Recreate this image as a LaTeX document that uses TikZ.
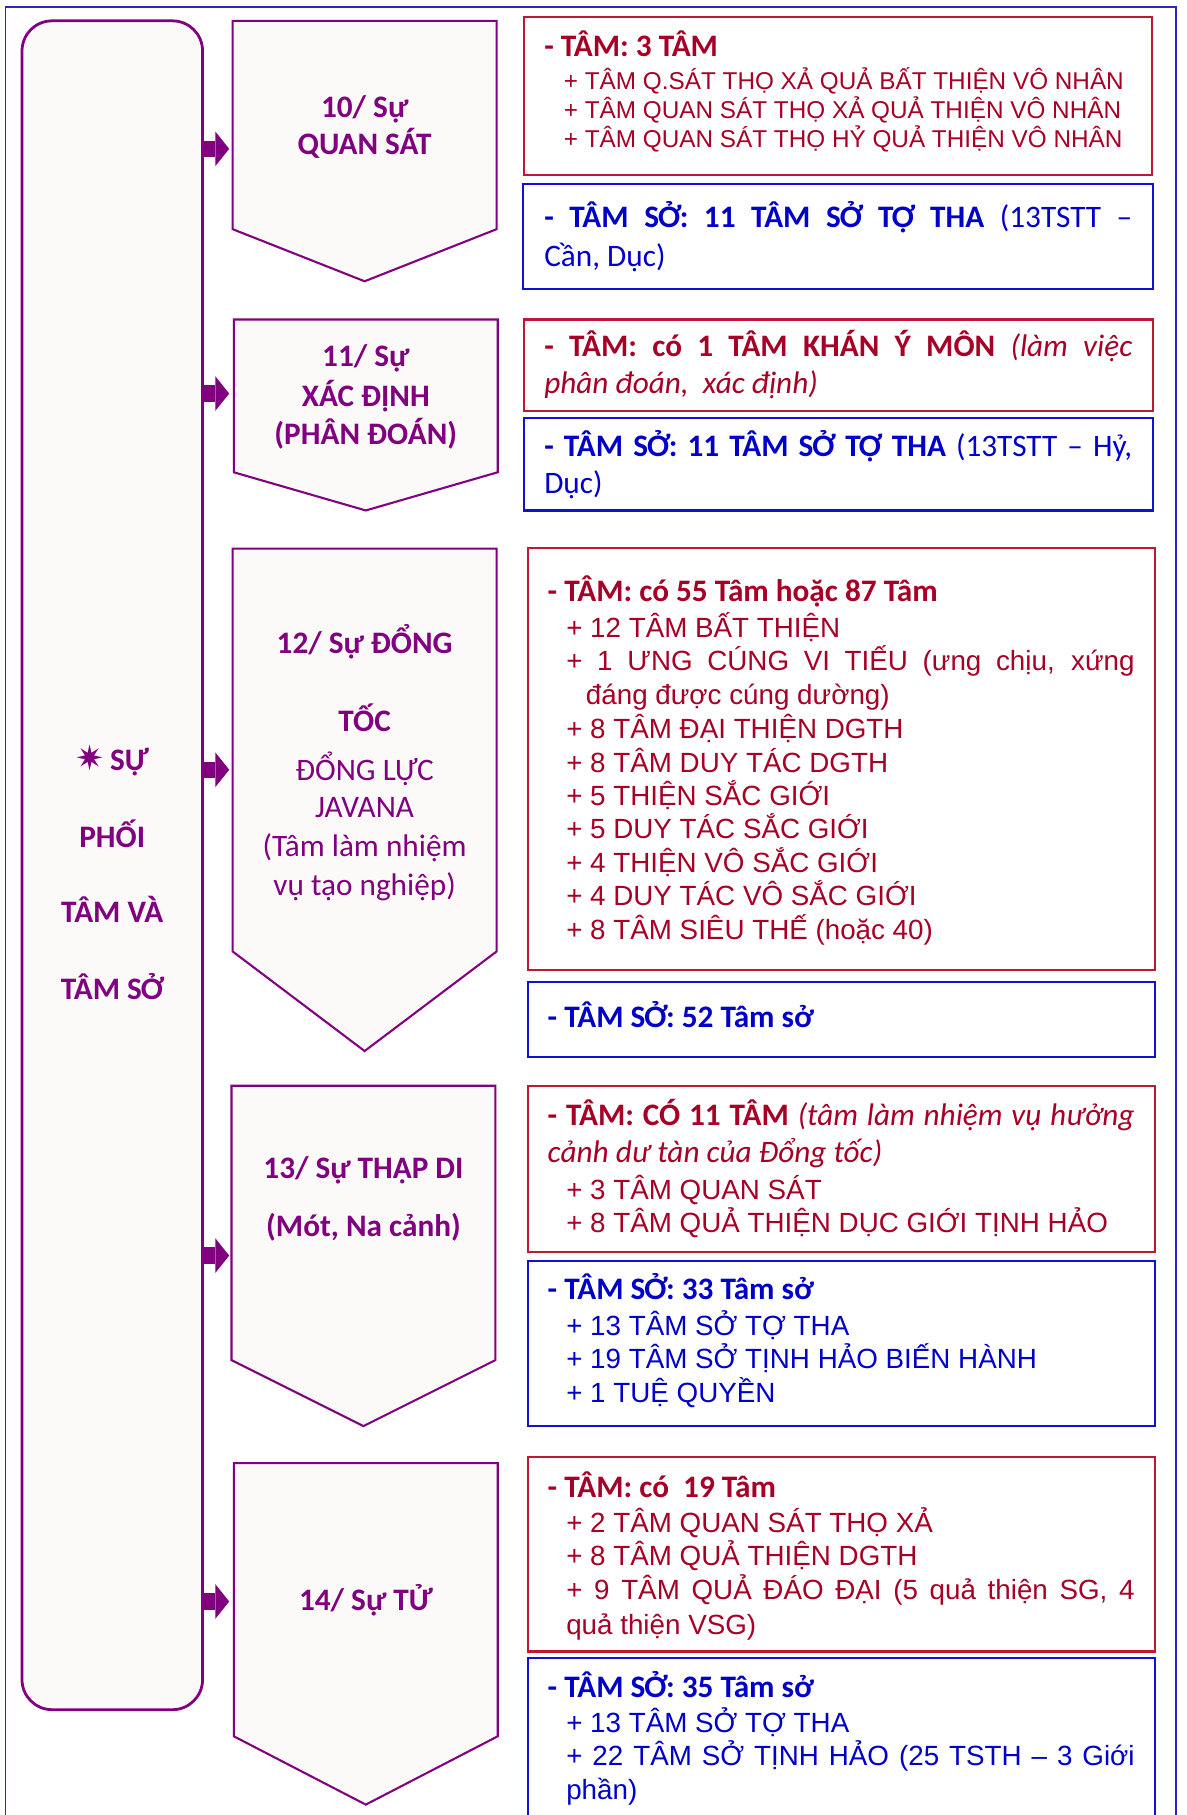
\documentclass[tikz,border=0pt]{standalone}
\usepackage{fontspec}
\setmainfont{Carlito}
\newfontfamily\arialfont{Liberation Sans}
\newfontfamily\starfont{DejaVu Sans}
\usetikzlibrary{arrows.meta}
\definecolor{tampurple}{RGB}{128,0,128}
\definecolor{tamred}{RGB}{166,0,38}
\definecolor{boxred}{RGB}{190,24,52}
\definecolor{tamblue}{RGB}{0,0,200}
\definecolor{boxblue}{RGB}{16,16,214}
\definecolor{paper}{RGB}{251,250,248}
\definecolor{framebl}{RGB}{40,40,190}
\newcommand{\bigf}{\fontsize{27}{33}\selectfont}
\newcommand{\itemf}{\arialfont\fontsize{24}{29}\selectfont}
\newcommand{\smallf}{\arialfont\fontsize{21}{25}\selectfont}

\begin{document}
\begin{tikzpicture}[x=1pt,y=-1pt,
  chev/.style={draw=tampurple,line width=1.8pt,fill=paper,line join=miter},
  redbox/.style={draw=boxred,line width=1.8pt},
  bluebox/.style={draw=boxblue,line width=1.8pt},
  ptitle/.style={text=tampurple,font=\bigf\bfseries,anchor=base,inner sep=0pt},
  pplain/.style={text=tampurple,font=\bigf,anchor=base,inner sep=0pt},
  redhead/.style={text=tamred,font=\bigf,anchor=base west,inner sep=0pt},
  reditem/.style={text=tamred,font=\itemf,anchor=base west,inner sep=0pt},
  bluehead/.style={text=tamblue,font=\bigf,anchor=base west,inner sep=0pt},
  blueitem/.style={text=tamblue,font=\itemf,anchor=base west,inner sep=0pt},
  bigarrow/.style={draw=tampurple,line width=14pt,
    -{Triangle[length=12pt,width=30pt,line width=0pt]}}]

\useasboundingbox (0,0) rectangle (1025,1568);
\fill[white] (0,0) rectangle (1025,1568);

% frame
\draw[framebl,line width=1.2pt] (5,1575) -- (5,6) -- (1016,6) -- (1016,1575);

% left box
\node[draw=tampurple,line width=2.4pt,fill=paper,rounded corners=26pt,
  minimum width=156pt,minimum height=1459pt,inner sep=0pt] (mainbox) at (97,747.5) {};
\node[ptitle] (m1) at (97,665.5) {{\starfont\fontsize{30}{30}\selectfont ✷}\,SỰ};
\node[ptitle] (m2) at (97,732) {PHỐI};
\node[ptitle] (m3) at (97,797) {TÂM VÀ};
\node[ptitle] (m4) at (97,863.4) {TÂM SỞ};

% chevrons
\draw[chev] (201,18) -- (429,18) -- (429,198) -- (315,243) -- (201,198) -- cycle;
\draw[chev] (202,276) -- (430,276) -- (430,408) -- (316,441) -- (202,408) -- cycle;
\draw[chev] (201,474) -- (429,474) -- (429,822) -- (315,908) -- (201,822) -- cycle;
\draw[chev] (200,938) -- (428,938) -- (428,1175) -- (314,1232) -- (200,1175) -- cycle;
\draw[chev] (202,1264) -- (430,1264) -- (430,1500) -- (316,1559) -- (202,1500) -- cycle;

\coordinate (in10) at (198,128.6);
\coordinate (in11) at (198,340);
\coordinate (in12) at (198,665);
\coordinate (in13) at (198,1084.7);
\coordinate (in14) at (198,1383.5);
\foreach \k in {10,11,12,13,14}
  \draw[bigarrow] (mainbox.east |- in\k) -- (in\k);

\node[ptitle] (c10a) at (315,101.4) {10/ Sự};
\node[ptitle] (c10b) at (315,133.4) {QUAN SÁT};
\node[ptitle] (c11a) at (316,317) {11/ Sự};
\node[ptitle] (c11b) at (316,351) {XÁC ĐỊNH};
\node[ptitle] (c11c) at (316,384) {(PHÂN ĐOÁN)};
\node[ptitle] (c12a) at (315,564.6) {12/ Sự ĐỔNG};
\node[ptitle] (c12b) at (315,632) {TỐC};
\node[pplain] (c12c) at (315,674) {ĐỔNG LỰC};
\node[pplain] (c12d) at (315,706.6) {JAVANA};
\node[pplain] (c12e) at (315,740) {(Tâm làm nhiệm};
\node[pplain] (c12f) at (315,773.5) {vụ tạo nghiệp)};
\node[ptitle] (c13a) at (314,1018.4) {13/ Sự THẬP DI};
\node[ptitle] (c13b) at (314,1068) {(Mót, Na cảnh)};
\node[ptitle] (c14a) at (316,1391.5) {14/ Sự TỬ};

% right boxes
\draw[redbox] (453,15) rectangle (995,151);
\draw[bluebox] (452,159) rectangle (996,249.5);
\draw[redbox] (453,276) rectangle (996,355);
\draw[bluebox] (453,361) rectangle (996,441);
\draw[redbox] (456,473.5) rectangle (998,837.6);
\draw[bluebox] (456,848) rectangle (998,912.8);
\draw[redbox] (456,938.4) rectangle (998,1081.8);
\draw[bluebox] (456,1089) rectangle (998,1232);
\draw[redbox] (456,1259) rectangle (998,1426.7);
\draw[bluebox] (456,1575) -- (456,1432.7) -- (998,1432.7) -- (998,1575);

% 10
\node[redhead] (r10a) at (470,49) {\bfseries - TÂM: 3 TÂM};
\node[reditem,font=\smallf] (r10b) at (487,77.2) {+ TÂM Q.SÁT THỌ XẢ QUẢ BẤT THIỆN VÔ NHÂN};
\node[reditem,font=\smallf] (r10c) at (487,102.3) {+ TÂM QUAN SÁT THỌ XẢ QUẢ THIỆN VÔ NHÂN};
\node[reditem,font=\smallf] (r10d) at (487,127) {+ TÂM QUAN SÁT THỌ HỶ QUẢ THIỆN VÔ NHÂN};
\node[bluehead] (b10a) at (470,196.8) {\makebox[508pt][s]{\bfseries - TÂM SỞ: 11 TÂM SỞ TỢ THA \mdseries(13TSTT –}};
\node[bluehead] (b10b) at (470,230.5) {Cần, Dục)};

% 11
\node[redhead] (r11a) at (470,308.3) {\makebox[508pt][s]{\bfseries - TÂM: có 1 TÂM KHÁN Ý MÔN \mdseries\itshape(làm việc}};
\node[redhead] (r11b) at (470,340) {\itshape phân đoán,\ \ xác định)};
\node[bluehead] (b11a) at (470,394.7) {\makebox[508pt][s]{\bfseries - TÂM SỞ: 11 TÂM SỞ TỢ THA \mdseries(13TSTT – Hỷ,}};
\node[bluehead] (b11b) at (470,426.4) {Dục)};

% 12
\node[redhead] (r12a) at (473,519.8) {\bfseries - TÂM: có 55 Tâm hoặc 87 Tâm};
\node[reditem] (r12b) at (489,550.7) {+ 12 TÂM BẤT THIỆN};
\node[reditem] (r12c) at (489,579.4) {\makebox[491pt][s]{+ 1 ƯNG CÚNG VI TIẾU (ưng chịu, xứng}};
\node[reditem] (r12d) at (506,608.4) {đáng được cúng dường)};
\node[reditem] (r12e) at (489,637.7) {+ 8 TÂM ĐẠI THIỆN DGTH};
\node[reditem] (r12f) at (489,667) {+ 8 TÂM DUY TÁC DGTH};
\node[reditem] (r12g) at (489,695.8) {+ 5 THIỆN SẮC GIỚI};
\node[reditem] (r12h) at (489,724.2) {+ 5 DUY TÁC SẮC GIỚI};
\node[reditem] (r12i) at (489,753.5) {+ 4 THIỆN VÔ SẮC GIỚI};
\node[reditem] (r12j) at (489,782.2) {+ 4 DUY TÁC VÔ SẮC GIỚI};
\node[reditem] (r12k) at (489,811.5) {+ 8 TÂM SIÊU THẾ (hoặc 40)};
\node[bluehead] (b12a) at (473,888) {\bfseries - TÂM SỞ: 52 Tâm sở};

% 13
\node[redhead] (r13a) at (473,972.4) {\makebox[507pt][s]{\bfseries - TÂM: CÓ 11 TÂM \mdseries\itshape(tâm làm nhiệm vụ hưởng}};
\node[redhead] (r13b) at (473,1004) {\itshape cảnh dư tàn của Đổng tốc)};
\node[reditem] (r13c) at (489,1036.3) {+ 3 TÂM QUAN SÁT};
\node[reditem] (r13d) at (489,1065.1) {+ 8 TÂM QUẢ THIỆN DỤC GIỚI TỊNH HẢO};
\node[bluehead] (b13a) at (473,1123) {\bfseries - TÂM SỞ: 33 Tâm sở};
\node[blueitem] (b13b) at (489,1153.9) {+ 13 TÂM SỞ TỢ THA};
\node[blueitem] (b13c) at (489,1182.1) {+ 19 TÂM SỞ TỊNH HẢO BIẾN HÀNH};
\node[blueitem] (b13d) at (489,1211.5) {+ 1 TUỆ QUYỀN};

% 14
\node[redhead] (r14a) at (473,1293.6) {\bfseries - TÂM: có\ \ 19 Tâm};
\node[reditem] (r14b) at (489,1323.8) {+ 2 TÂM QUAN SÁT THỌ XẢ};
\node[reditem] (r14c) at (489,1352.6) {+ 8 TÂM QUẢ THIỆN DGTH};
\node[reditem] (r14d) at (489,1382) {\makebox[491pt][s]{+ 9 TÂM QUẢ ĐÁO ĐẠI (5 quả thiện SG, 4}};
\node[reditem] (r14e) at (489,1411.7) {quả thiện VSG)};
\node[bluehead] (b14a) at (473,1466.4) {\bfseries - TÂM SỞ: 35 Tâm sở};
\node[blueitem] (b14b) at (489,1496.7) {+ 13 TÂM SỞ TỢ THA};
\node[blueitem] (b14c) at (489,1525.5) {\makebox[491pt][s]{+ 22 TÂM SỞ TỊNH HẢO (25 TSTH – 3 Giới}};
\node[blueitem] (b14d) at (489,1554.3) {phần)};
\end{tikzpicture}
\end{document}
